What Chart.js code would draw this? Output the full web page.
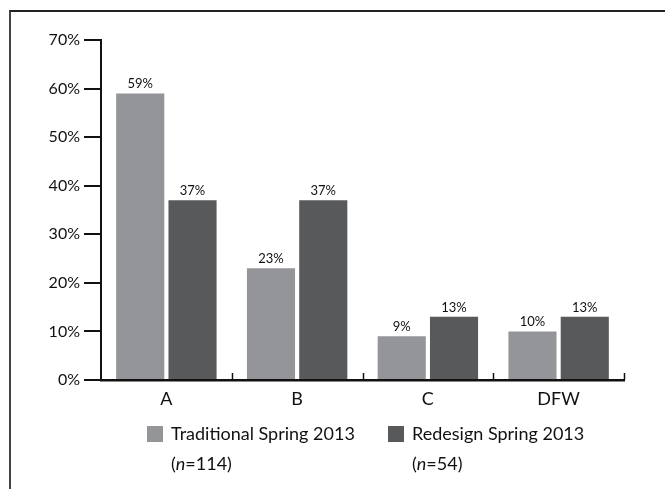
<!DOCTYPE html>
<html>
<head>
<meta charset="utf-8">
<script src="https://cdn.jsdelivr.net/npm/chart.js@4/dist/chart.umd.min.js"></script>
<style>
  html, body { margin: 0; padding: 0; background: #fff; }
  #wrap { position: relative; width: 665px; height: 489px; overflow: hidden; font-family: Lato, "Open Sans", sans-serif; }
  #frame { position: absolute; left: 9px; top: 10px; width: 700px; height: 600px; border-top: 2px solid #222; border-left: 2px solid #444; box-sizing: border-box; }
  #chart { position: absolute; left: 0; top: 0; }
  .leg { position: absolute; top: 418px; font-size: 18px; line-height: 30px; color: #111; }
  .leg .box { position: absolute; left: 0; top: 8px; width: 16px; height: 16px; }
  .leg .txt { position: absolute; left: 24px; top: 0; white-space: nowrap; }
</style>
</head>
<body>
<div id="wrap">
  <div id="frame"></div>
  <canvas id="chart" width="665" height="489"></canvas>
  <div id="legend"></div>
</div>
<script>
const categories = ["A", "B", "C", "DFW"];
const seriesNames = ["Traditional Spring 2013", "Redesign Spring 2013"];
const seriesN = [114, 54];
const traditional = [59, 23, 9, 10];
const redesign = [37, 37, 13, 13];
const yTicks = [0, 10, 20, 30, 40, 50, 60, 70];
const colors = ["#939598", "#58595b"];

// value labels above each bar
const barLabels = {
  id: "barLabels",
  afterDatasetsDraw(chart) {
    const ctx = chart.ctx;
    ctx.save();
    ctx.font = "13px Lato, sans-serif";
    ctx.fillStyle = "#111";
    ctx.textAlign = "center";
    ctx.textBaseline = "bottom";
    chart.data.datasets.forEach((ds, i) => {
      chart.getDatasetMeta(i).data.forEach((bar, j) => {
        ctx.fillText(ds.data[j] + "%", bar.x, bar.y - 3);
      });
    });
    ctx.restore();
  }
};

// small upward ticks between categories
const catTicks = {
  id: "catTicks",
  afterDraw(chart) {
    const x = chart.scales.x;
    const ctx = chart.ctx;
    ctx.save();
    ctx.strokeStyle = "#111";
    ctx.lineWidth = 1.5;
    for (let i = 1; i <= categories.length; i++) {
      const px = Math.round(x.getPixelForValue(i - 0.5)) + 0.5;
      ctx.beginPath();
      ctx.moveTo(px, x.top - 7);
      ctx.lineTo(px, x.top);
      ctx.stroke();
    }
    ctx.restore();
  }
};

new Chart(document.getElementById("chart"), {
  type: "bar",
  data: {
    labels: categories,
    datasets: [
      { label: seriesNames[0], data: traditional, backgroundColor: colors[0] },
      { label: seriesNames[1], data: redesign, backgroundColor: colors[1] }
    ]
  },
  options: {
    responsive: false,
    animation: false,
    events: [],
    layout: { padding: { top: 40, right: 41, left: 0, bottom: 0 } },
    plugins: { legend: { display: false }, tooltip: { enabled: false } },
    datasets: { bar: { categoryPercentage: 0.8, barPercentage: 0.92 } },
    scales: {
      x: {
        offset: true,
        grid: { display: true, drawOnChartArea: false, drawTicks: false, color: "transparent" },
        border: { display: true, color: "#111", width: 2.5 },
        ticks: { color: "#111", padding: 8, font: { family: "Lato", size: 18 } },
        afterFit(s) { s.height = 109; }
      },
      y: {
        min: 0,
        max: 70,
        afterBuildTicks(s) { s.ticks = yTicks.map(v => ({ value: v })); },
        grid: { drawOnChartArea: false, tickLength: 17, color: "#111", lineWidth: 2 },
        border: { display: true, color: "#111", width: 2 },
        ticks: { color: "#111", padding: 4, font: { family: "Lato", size: 16 }, callback: v => v + "%" },
        afterFit(s) { s.width = 101; }
      }
    }
  },
  plugins: [barLabels, catTicks]
});

// legend with two-line labels
const legendLeft = [147, 388];
const legend = document.getElementById("legend");
seriesNames.forEach((name, i) => {
  const d = document.createElement("div");
  d.className = "leg";
  d.style.left = legendLeft[i] + "px";
  d.innerHTML = '<div class="box" style="background:' + colors[i] + '"></div>' +
    '<div class="txt">' + name + '<br>(<i>n</i>=' + seriesN[i] + ')</div>';
  legend.appendChild(d);
});
</script>
</body>
</html>
